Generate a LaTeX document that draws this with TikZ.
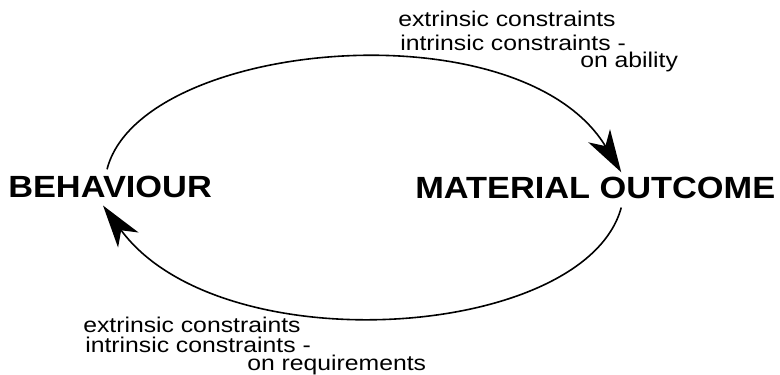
\documentclass[tikz,border=0pt]{standalone}
\usepackage{fontspec}
\setmainfont{Liberation Sans}
\newfontfamily\statefont[FakeStretch=1.12]{Liberation Sans}
\newfontfamily\constrfont[FakeStretch=1.16]{Liberation Sans}
\usepackage{tikz}
\usetikzlibrary{arrows.meta,positioning}
\tikzset{every node/.append style={font=\rmfamily}}
\tikzset{
  statebox/.style={font=\statefont\fontsize{23}{28}\selectfont\bfseries,inner sep=0pt},
  constr/.style={font=\constrfont\fontsize{16}{18}\selectfont,inner sep=0pt,anchor=base west},
  flowline/.style={line width=1.2pt,-{Stealth[length=32pt,width=19pt,inset=9pt]}}
}

\begin{document}
\begin{tikzpicture}[x=0.75pt,y=-0.75pt]
\useasboundingbox (0,0) rectangle (780,374);
\node[statebox,anchor=base west] (beh) at (8,197) {BEHAVIOUR};
\node[statebox,anchor=base west] (mat) at (415,198) {MATERIAL OUTCOME};
% labels on the upper arc
\node[constr] (abilA) at (398,27) {extrinsic constraints};
\node[constr] (abilB) at (400,51) {intrinsic constraints -};
\node[constr] (abilC) at (580,68) {on ability};
% labels on the lower arc
\node[constr] (reqA) at (83,332) {extrinsic constraints};
\node[constr] (reqB) at (85,352) {intrinsic constraints -};
\node[constr] (reqC) at (247,370) {on requirements};
\draw[flowline] ([shift={(-3,-6)}]beh.north) .. controls (140,40) and (520,5) .. ([shift={(26,-4)}]mat.north);
\draw[flowline] ([shift={(26,9)}]mat.south) .. controls (585,340) and (220,365) .. ([shift={(-7,8)}]beh.south);
\end{tikzpicture}
\end{document}
